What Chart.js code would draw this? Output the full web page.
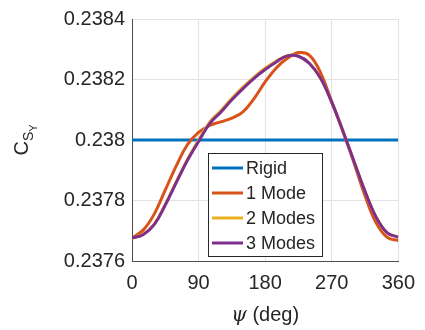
<!DOCTYPE html>
<html>
<head>
<meta charset="utf-8">
<script src="https://cdn.jsdelivr.net/npm/chart.js@4.4.0/dist/chart.umd.min.js"></script>
<style>
  html, body { margin: 0; padding: 0; background: #fff; }
  #wrap { width: 425px; height: 330px; }
</style>
</head>
<body>
<div id="wrap"><canvas id="chart" width="425" height="330"></canvas></div>
<script>
// psi (deg) sample points and C_SY values
const psi = [0, 15, 30, 45, 60, 75, 90, 105, 120, 135, 150, 165, 180,
             195, 210, 225, 240, 255, 270, 285, 300, 315, 330, 345, 360];

const rigid = [0.2380, 0.2380, 0.2380, 0.2380, 0.2380, 0.2380, 0.2380, 0.2380, 0.2380,
               0.2380, 0.2380, 0.2380, 0.2380, 0.2380, 0.2380, 0.2380, 0.2380, 0.2380,
               0.2380, 0.2380, 0.2380, 0.2380, 0.2380, 0.2380, 0.2380];

const mode1 = [0.237676, 0.237702, 0.237755, 0.237835, 0.237915, 0.237985, 0.238025,
               0.238048, 0.238060, 0.238072, 0.238093, 0.238137, 0.238192, 0.238238,
               0.238270, 0.238289, 0.238280, 0.238222, 0.238126, 0.238030, 0.237925,
               0.237816, 0.237726, 0.237678, 0.237668];

const mode2 = [0.237676, 0.237688, 0.237722, 0.237787, 0.237863, 0.237936, 0.238000,
               0.238059, 0.238097, 0.238138, 0.238175, 0.238208, 0.238237, 0.238261,
               0.238279, 0.238277, 0.238253, 0.238204, 0.238125, 0.238030, 0.237930,
               0.237830, 0.237745, 0.237693, 0.237679];

const mode3 = [0.237676, 0.237687, 0.237720, 0.237785, 0.237860, 0.237933, 0.237995,
               0.238054, 0.238092, 0.238133, 0.238170, 0.238204, 0.238233, 0.238258,
               0.238278, 0.238277, 0.238253, 0.238204, 0.238125, 0.238030, 0.237930,
               0.237830, 0.237745, 0.237693, 0.237679];

const seriesLabels = ['Rigid', '1 Mode', '2 Modes', '3 Modes'];
const seriesColors = ['#0072BD', '#D95319', '#EDB120', '#7E2F8E'];
const xTicks = [0, 90, 180, 270, 360];
const yTicks = [0.2376, 0.2378, 0.2380, 0.2382, 0.2384];

const FONT = '"Liberation Sans", Arial, Helvetica, sans-serif';
const TEXT = '#262626';

function toPoints(ys) {
  return psi.map((x, i) => ({ x: x, y: ys[i] }));
}

const allSeries = [rigid, mode1, mode2, mode3];

// legend box + axis titles drawn after the chart
const extras = {
  id: 'extras',
  afterDraw(chart) {
    const ctx = chart.ctx;
    const a = chart.chartArea;
    ctx.save();

    // legend
    const bx = a.left + 76, by = a.top + 134, bw = 114, bh = 103;
    ctx.fillStyle = '#fff';
    ctx.fillRect(bx, by, bw, bh);
    ctx.strokeStyle = '#262626';
    ctx.lineWidth = 1;
    ctx.strokeRect(bx + 0.5, by + 0.5, bw, bh);
    ctx.font = '18px ' + FONT;
    ctx.textBaseline = 'middle';
    chart.data.datasets.forEach((ds, i) => {
      const ry = by + 15 + i * 25;
      ctx.strokeStyle = ds.borderColor;
      ctx.lineWidth = 3;
      ctx.beginPath();
      ctx.moveTo(bx + 4, ry);
      ctx.lineTo(bx + 35, ry);
      ctx.stroke();
      ctx.fillStyle = TEXT;
      ctx.fillText(ds.label, bx + 38, ry + 1);
    });

    // y title: C_{S_Y}
    const cy = (a.top + a.bottom) / 2;
    ctx.translate(28, cy);
    ctx.rotate(-Math.PI / 2);
    ctx.fillStyle = TEXT;
    ctx.textBaseline = 'alphabetic';
    ctx.font = '20px ' + FONT;
    const wC = ctx.measureText('C').width;
    ctx.font = '14px ' + FONT;
    const wS = ctx.measureText('S').width;
    ctx.font = '11px ' + FONT;
    const wY = ctx.measureText('Y').width;
    let x0 = -(wC + wS + wY) / 2;
    ctx.font = '20px ' + FONT;
    ctx.fillText('C', x0, 0);
    x0 += wC;
    ctx.font = '14px ' + FONT;
    ctx.fillText('S', x0, 5);
    x0 += wS;
    ctx.font = '11px ' + FONT;
    ctx.fillText('Y', x0, 9);
    ctx.setTransform(1, 0, 0, 1, 0, 0);

    // x title: psi (deg)
    const cx = (a.left + a.right) / 2;
    ctx.font = 'italic 20px "DejaVu Serif", serif';
    const wPsi = ctx.measureText('\u03C8').width;
    ctx.font = '20px ' + FONT;
    const wDeg = ctx.measureText(' (deg)').width;
    let tx = cx - (wPsi + wDeg) / 2;
    ctx.textBaseline = 'alphabetic';
    ctx.font = 'italic 20px "DejaVu Serif", serif';
    ctx.fillText('\u03C8', tx, 321);
    ctx.font = '20px ' + FONT;
    ctx.fillText(' (deg)', tx + wPsi, 321);

    ctx.restore();
  }
};

new Chart(document.getElementById('chart'), {
  type: 'line',
  data: {
    datasets: allSeries.map((ys, i) => ({
      label: seriesLabels[i],
      data: toPoints(ys),
      borderColor: seriesColors[i],
      backgroundColor: seriesColors[i],
      borderWidth: 3,
      pointRadius: 0,
      fill: false,
      tension: 0.4,
      order: 4 - i
    }))
  },
  options: {
    responsive: false,
    animation: false,
    events: [],
    layout: { padding: { left: 0, right: 17, top: 16, bottom: 0 } },
    plugins: {
      legend: { display: false },
      tooltip: { enabled: false },
      title: { display: false }
    },
    scales: {
      x: {
        type: 'linear',
        min: 0,
        max: 360,
        afterBuildTicks: s => { s.ticks = xTicks.map(v => ({ value: v })); },
        afterFit: s => { s.height = 69; },
        grid: { color: '#e3e3e3', drawTicks: false },
        border: { color: '#4d4d4d', width: 1 },
        ticks: {
          padding: 10,
          color: TEXT,
          font: { family: FONT, size: 20 },
          maxRotation: 0,
          callback: v => String(v)
        }
      },
      y: {
        type: 'linear',
        min: 0.2376,
        max: 0.2384,
        afterBuildTicks: s => { s.ticks = yTicks.map(v => ({ value: v })); },
        afterFit: s => { s.width = 132; },
        grid: { color: '#e3e3e3', drawTicks: false },
        border: { color: '#4d4d4d', width: 1 },
        ticks: {
          padding: 7,
          color: TEXT,
          font: { family: FONT, size: 20 },
          callback: v => String(Number(v.toFixed(4)))
        }
      }
    }
  },
  plugins: [extras]
});
</script>
</body>
</html>
